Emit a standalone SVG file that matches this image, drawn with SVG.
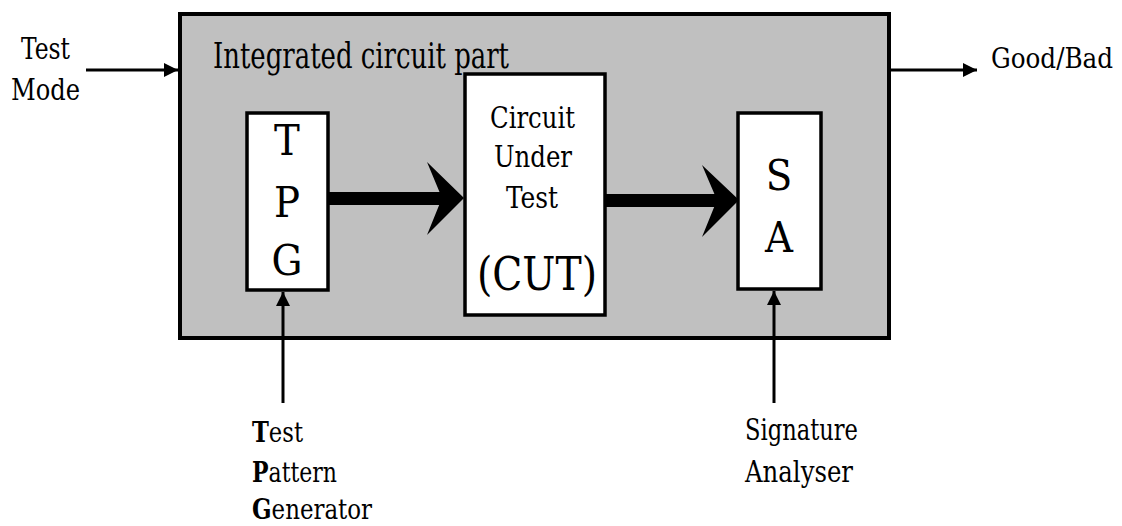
<svg xmlns="http://www.w3.org/2000/svg" width="1122" height="526" viewBox="0 0 1122 526" font-family="'DejaVu Serif Condensed', 'DejaVu Serif', serif">
  <style>
    text { fill: #000; }
    .box { fill: #fff; stroke: #000; stroke-width: 3.5; }
    .outer { fill: #c0c0c0; stroke: #000; stroke-width: 4; }
    .wire { fill: none; stroke: #000; stroke-width: 3; }
    .fat { fill: #000; stroke: none; }
  </style>
  <defs>
    <marker id="tip" viewBox="0 0 10 10" refX="10" refY="5" markerUnits="userSpaceOnUse" markerWidth="15" markerHeight="14" orient="auto">
      <path d="M0,0 L10,5 L0,10 Z" fill="#000"/>
    </marker>
  </defs>
  <rect width="1122" height="526" fill="#fff"/>

  <!-- integrated circuit enclosure -->
  <g id="ic">
    <rect class="outer" x="180" y="14" width="709" height="324"/>
    <text x="213" y="68" font-size="35" textLength="296" lengthAdjust="spacingAndGlyphs">Integrated circuit part</text>
  </g>

  <!-- test pattern generator -->
  <g id="tpg">
    <rect class="box" x="247" y="113" width="81" height="177"/>
    <text x="287" y="155" font-size="43" text-anchor="middle">T</text>
    <text x="287" y="217" font-size="43" text-anchor="middle">P</text>
    <text x="287" y="275" font-size="43" text-anchor="middle">G</text>
  </g>

  <!-- circuit under test -->
  <g id="cut">
    <rect class="box" x="465" y="74" width="140" height="241"/>
    <text x="490" y="128" font-size="30" textLength="85" lengthAdjust="spacingAndGlyphs">Circuit</text>
    <text x="494" y="167" font-size="30" textLength="78" lengthAdjust="spacingAndGlyphs">Under</text>
    <text x="506" y="208" font-size="30" textLength="52" lengthAdjust="spacingAndGlyphs">Test</text>
    <text x="477" y="290" font-size="46" textLength="120" lengthAdjust="spacingAndGlyphs">(CUT)</text>
  </g>

  <!-- signature analyser -->
  <g id="sa">
    <rect class="box" x="738" y="113" width="83" height="176"/>
    <text x="779" y="190" font-size="43" text-anchor="middle">S</text>
    <text x="779" y="252" font-size="43" text-anchor="middle">A</text>
  </g>

  <!-- external labels -->
  <g id="test-mode">
    <text x="21" y="59" font-size="30" textLength="49" lengthAdjust="spacingAndGlyphs">Test</text>
    <text x="11" y="100" font-size="30" textLength="69" lengthAdjust="spacingAndGlyphs">Mode</text>
  </g>
  <g id="good-bad">
    <text x="991" y="68" font-size="28" textLength="122" lengthAdjust="spacingAndGlyphs">Good/Bad</text>
  </g>
  <g id="tpg-label">
    <text x="252" y="442" font-size="27" textLength="51" lengthAdjust="spacingAndGlyphs"><tspan font-weight="bold">T</tspan>est</text>
    <text x="252" y="482" font-size="27" textLength="85" lengthAdjust="spacingAndGlyphs"><tspan font-weight="bold">P</tspan>attern</text>
    <text x="252" y="519" font-size="27" textLength="120" lengthAdjust="spacingAndGlyphs"><tspan font-weight="bold">G</tspan>enerator</text>
  </g>
  <g id="sa-label">
    <text x="745" y="440" font-size="29" textLength="113" lengthAdjust="spacingAndGlyphs">Signature</text>
    <text x="745" y="482" font-size="29" textLength="108" lengthAdjust="spacingAndGlyphs">Analyser</text>
  </g>

  <!-- connectors -->
  <g id="connectors">
    <line class="wire" x1="86" y1="70" x2="178" y2="70" marker-end="url(#tip)"/>
    <line class="wire" x1="889" y1="70" x2="977" y2="70" marker-end="url(#tip)"/>
    <line class="wire" x1="283" y1="403" x2="283" y2="292" marker-end="url(#tip)"/>
    <line class="wire" x1="774" y1="403" x2="774" y2="291" marker-end="url(#tip)"/>
    <!-- thick data-path arrows -->
    <rect class="fat" x="328" y="192" width="117" height="13"/>
    <path class="fat" d="M427,162 L464,198 L427,235 L442,198 Z"/>
    <rect class="fat" x="605" y="194" width="112" height="13"/>
    <path class="fat" d="M702,165 L739,200 L702,237 L717,200 Z"/>
  </g>
</svg>
